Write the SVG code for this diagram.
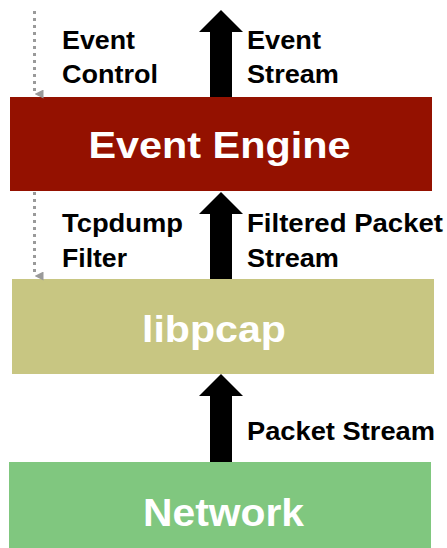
<svg xmlns="http://www.w3.org/2000/svg" width="447" height="548" viewBox="0 0 447 548">
<style>
.lbl{font-family:"Liberation Sans",Arial,sans-serif;font-weight:bold;font-size:25px;fill:#000}
.big{font-family:"Liberation Sans",Arial,sans-serif;font-weight:bold;fill:#fff;text-anchor:middle}
.dot{stroke:#9a9a9a;stroke-width:3;stroke-dasharray:3 4;fill:none}
.arr{fill:#000}
</style>
<defs>
<marker id="gh" viewBox="0 0 10 10" refX="5" refY="10" markerWidth="3" markerHeight="3" orient="auto-start-reverse" markerUnits="strokeWidth">
<path d="M0,0 L10,0 L5,10 Z" fill="#9a9a9a"/>
</marker>
</defs>
<g id="event-engine">
<rect x="10" y="97" width="422" height="94" fill="#941100"/>
<text class="big" x="219.5" y="158" font-size="37" textLength="262" lengthAdjust="spacingAndGlyphs">Event Engine</text>
</g>
<g id="libpcap">
<rect x="12" y="279" width="422" height="95" fill="#c8c682"/>
<text class="big" x="214" y="342" font-size="37" textLength="144" lengthAdjust="spacingAndGlyphs">libpcap</text>
</g>
<g id="network">
<rect x="9" y="462" width="422" height="86" fill="#80c77f"/>
<text class="big" x="223.5" y="526" font-size="38" textLength="161" lengthAdjust="spacingAndGlyphs">Network</text>
</g>
<g id="connectors">
<polygon class="arr" points="221,10 243,32 232,32 232,97 210,97 210,32 199,32"/>
<polygon class="arr" points="221,192 243,214 232,214 232,279 210,279 210,214 199,214"/>
<polygon class="arr" points="221,374 243,396 232,396 232,462 210,462 210,396 199,396"/>
<line class="dot" x1="34.5" y1="11" x2="34.5" y2="94" marker-end="url(#gh)"/>
<line class="dot" x1="34.5" y1="192" x2="34.5" y2="276" marker-end="url(#gh)"/>
</g>
<g id="labels">
<text class="lbl" x="62" y="49" textLength="73" lengthAdjust="spacingAndGlyphs">Event</text>
<text class="lbl" x="62" y="83" textLength="96" lengthAdjust="spacingAndGlyphs">Control</text>
<text class="lbl" x="247" y="49" textLength="74" lengthAdjust="spacingAndGlyphs">Event</text>
<text class="lbl" x="247" y="83" textLength="92" lengthAdjust="spacingAndGlyphs">Stream</text>
<text class="lbl" x="62" y="232" textLength="121" lengthAdjust="spacingAndGlyphs">Tcpdump</text>
<text class="lbl" x="62" y="267" textLength="65" lengthAdjust="spacingAndGlyphs">Filter</text>
<text class="lbl" x="247" y="232" textLength="196" lengthAdjust="spacingAndGlyphs">Filtered Packet</text>
<text class="lbl" x="247" y="267" textLength="92" lengthAdjust="spacingAndGlyphs">Stream</text>
<text class="lbl" x="247" y="440" textLength="188" lengthAdjust="spacingAndGlyphs">Packet Stream</text>
</g>
</svg>
